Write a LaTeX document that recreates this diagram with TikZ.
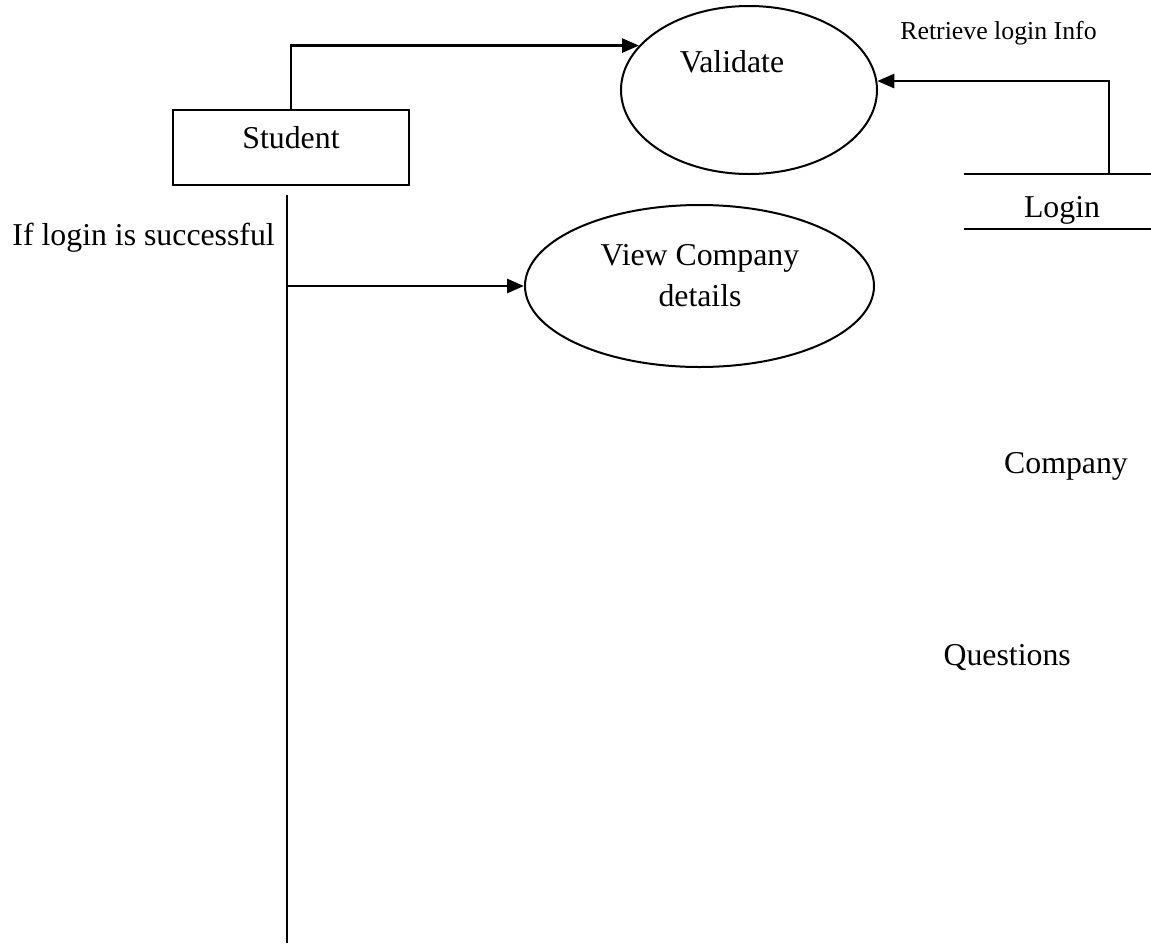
\documentclass[tikz,border=0pt]{standalone}
\usepackage{fontspec}
\setmainfont{Liberation Serif}
\usetikzlibrary{arrows.meta,shapes.geometric}

\begin{document}
\begin{tikzpicture}[x=1pt,y=-1pt,
    big/.style={font=\fontsize{31.8}{38}\selectfont,inner sep=0pt,anchor=base},
    small/.style={font=\fontsize{25.8}{31}\selectfont,inner sep=0pt,anchor=base},
    process/.style={ellipse,draw,line width=2pt,inner sep=0pt},
    flow/.style={line width=2.8pt,-{Triangle[length=17pt,width=14pt]}}]
    \useasboundingbox (0,0) rectangle (1151,943);

    % external entity
    \node[draw,line width=2.4pt,inner sep=0pt,minimum width=236pt,minimum height=75pt]
      (student) at (291,147.5) {};
    \node[big] (studentlabel) at (291,148) {Student};

    % processes
    \node[process,minimum width=256pt,minimum height=168pt] (validate) at (749,90) {};
    \node[big] (validatelabel) at (732,72) {Validate};
    \node[process,minimum width=349pt,minimum height=162pt] (view) at (699.5,286) {};
    \node[big] (viewtop) at (700,265) {View Company};
    \node[big] (viewbottom) at (700,306) {details};

    % data stores
    \node[minimum width=187pt,minimum height=55pt,inner sep=0pt] (login) at (1057.5,201.5) {};
    \draw[line width=2pt] (login.north west) -- (login.north east);
    \draw[line width=2pt] (login.south west) -- (login.south east);
    \node[big] (loginlabel) at (1062,217) {Login};
    \node[big] (company) at (1066,473) {Company};
    \node[big,anchor=base east] (questions) at (1071,665) {Questions};

    \coordinate (feed) at (1109,174);
    \coordinate (trunktop) at (287,195);
    \coordinate (trunkend) at (287,943);

    \draw[flow] (student.north) |- (validate.158);
    \draw[flow] (feed) |- (validate.4);
    \node[small] (retrieve) at (998.5,39) {Retrieve login Info};

    \draw[line width=2.4pt] (trunktop) -- (trunkend);
    \draw[flow] (trunktop |- view.west) -- (view.west);
    \node[big,anchor=base east] (success) at (275,245) {If login is successful};
  \end{tikzpicture}
\end{document}
